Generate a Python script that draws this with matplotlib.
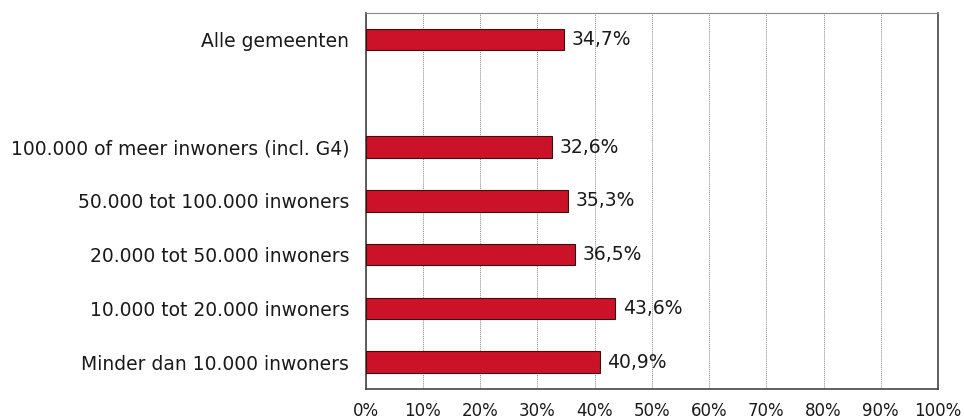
import matplotlib
matplotlib.use("Agg")
import matplotlib.pyplot as plt
from matplotlib.ticker import FixedLocator

categories = ["Minder dan 10.000 inwoners", "10.000 tot 20.000 inwoners",
              "20.000 tot 50.000 inwoners", "50.000 tot 100.000 inwoners",
              "100.000 of meer inwoners (incl. G4)", "", "Alle gemeenten"]
values = [40.9, 43.6, 36.5, 35.3, 32.6, None, 34.7]
value_labels = ["40,9%", "43,6%", "36,5%", "35,3%", "32,6%", "", "34,7%"]
xticks = list(range(0, 101, 10))
xticklabels = [f"{t}%" for t in xticks]

plt.rcParams['font.family'] = ['DejaVu Sans']
fig = plt.figure(figsize=(9.64, 4.19), dpi=100)
ax = fig.add_axes([0.3794, 0.0716, 0.5936, 0.8981])

pos = [i for i, v in enumerate(values) if v is not None]
vals = [v for v in values if v is not None]
ax.barh(pos, vals, height=0.4, color="#CC1228", edgecolor="#3a1010", linewidth=0.8, zorder=3)
for p, v, lab in zip(range(len(values)), values, value_labels):
    if v is not None:
        ax.annotate(lab, (v, p), xytext=(5.5, 0), textcoords="offset points",
                    va="center", ha="left", fontsize=13.5, color="#1a1a1a", zorder=4)

ax.set_xlim(0, 100)
ax.set_ylim(-0.5, 6.5)
ax.set_yticks(range(len(categories)))
ax.set_yticklabels(categories, fontsize=13.5, color="#1a1a1a")
ax.xaxis.set_major_locator(FixedLocator(xticks))
ax.set_xticklabels(xticklabels, fontsize=12, color="#1a1a1a")
ax.tick_params(axis="both", length=0)
ax.tick_params(axis="y", pad=12)
ax.tick_params(axis="x", pad=9.5)
ax.grid(axis="x", color="#888888", linestyle=(0, (1, 1)), linewidth=0.7, zorder=0)
ax.grid(axis="y", visible=False)
for s in ["left", "bottom", "right"]:
    ax.spines[s].set_color("#444444")
    ax.spines[s].set_linewidth(1.2)
ax.spines["top"].set_color("#888888")
ax.spines["top"].set_linewidth(0.8)

fig.savefig("out.png", dpi=100)
